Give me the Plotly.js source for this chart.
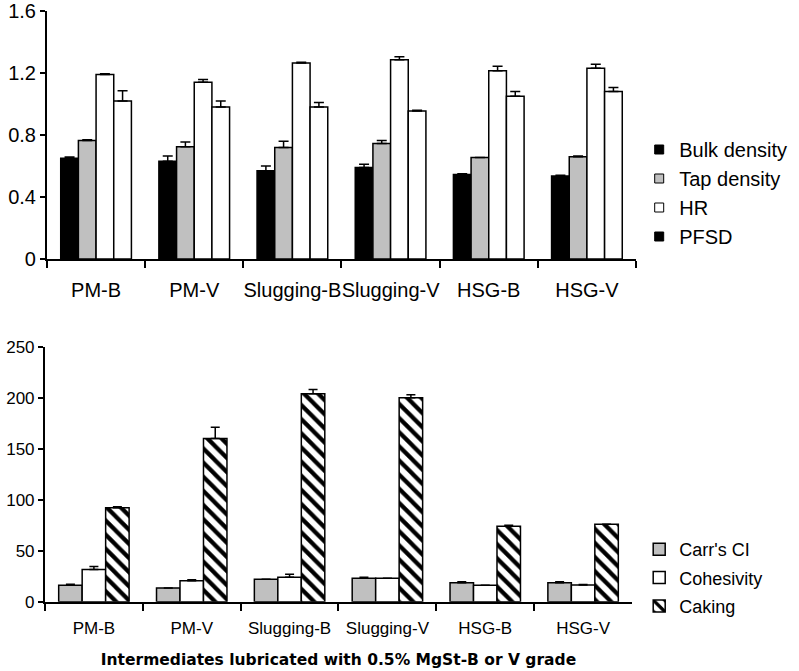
<!DOCTYPE html>
<html>
<head>
<meta charset="utf-8">
<script src="https://cdn.plot.ly/plotly-3.0.1.min.js"></script>
<style>html,body{margin:0;padding:0;background:#fff;}#chart{width:799px;height:671px;}</style>
</head>
<body>
<div id="chart"></div>
<script>
var categories = ['PM-B', 'PM-V', 'Slugging-B', 'Slugging-V', 'HSG-B', 'HSG-V'];

// Top panel
var bulkDensity = [0.65, 0.63, 0.57, 0.59, 0.545, 0.535];
var bulkDensityErr = [0.008, 0.035, 0.03, 0.022, 0.005, 0.005];
var tapDensity = [0.765, 0.725, 0.72, 0.745, 0.655, 0.66];
var tapDensityErr = [0.005, 0.03, 0.04, 0.02, 0, 0.005];
var hr = [1.19, 1.14, 1.265, 1.285, 1.215, 1.23];
var hrErr = [0.005, 0.018, 0.005, 0.02, 0.028, 0.027];
var pfsd = [1.02, 0.98, 0.98, 0.955, 1.05, 1.08];
var pfsdErr = [0.065, 0.04, 0.03, 0.004, 0.03, 0.027];

// Bottom panel
var carrsCI = [16, 13.5, 22, 23, 18.5, 18.5];
var carrsCIErr = [1, 0, 0, 1, 1, 1];
var cohesivity = [31.5, 20.5, 24, 23, 16, 16.4];
var cohesivityErr = [3, 1, 3, 0, 0, 0.5];
var caking = [92, 160, 204, 200, 74, 76];
var cakingErr = [1, 11, 4, 3, 1, 0];

var FONT = 'Liberation Sans, Arial, sans-serif';
var GRAY = '#c0c0c0';

function zeros(n){ var a=[]; for(var i=0;i<n;i++) a.push(0); return a; }

function barTrace(name, y, err, color, xa, ya, extra){
  var t = {
    type: 'bar', name: name, x: categories, y: y,
    xaxis: xa, yaxis: ya,
    marker: {color: color, line: {color: '#000', width: 1.5}},
    error_y: {type: 'data', array: err, arrayminus: zeros(err.length), symmetric: false,
              color: '#000', thickness: 1.5, width: 5, visible: true}
  };
  for (var k in extra) t[k] = extra[k];
  return t;
}

function legendDummy(name, color, grp){
  return {type: 'scatter', mode: 'markers', name: name, x: [null], y: [null],
    xaxis: 'x', yaxis: 'y', legend: 'legend', legendgroup: grp,
    marker: {symbol: 'square', size: 9, color: color, line: {color: '#000', width: 1}}};
}

var data = [
  barTrace('Bulk density', bulkDensity, bulkDensityErr, '#000', 'x', 'y', {showlegend: false}),
  barTrace('Tap density', tapDensity, tapDensityErr, GRAY, 'x', 'y', {showlegend: false}),
  barTrace('HR', hr, hrErr, '#fff', 'x', 'y', {showlegend: false}),
  barTrace('PFSD', pfsd, pfsdErr, '#fff', 'x', 'y', {showlegend: false}),
  legendDummy('Bulk density', '#000', 'a'),
  legendDummy('Tap density', GRAY, 'b'),
  legendDummy('HR', '#fff', 'c'),
  legendDummy('PFSD', '#000', 'd'),
  barTrace("Carr's CI", carrsCI, carrsCIErr, GRAY, 'x2', 'y2', {legend: 'legend2', legendgroup: 'e'}),
  barTrace('Cohesivity', cohesivity, cohesivityErr, '#fff', 'x2', 'y2', {legend: 'legend2', legendgroup: 'f'}),
  barTrace('Caking', caking, cakingErr, '#fff', 'x2', 'y2', {legend: 'legend2', legendgroup: 'g'})
];
data[10].marker.pattern = {shape: '\\', bgcolor: '#fff', fgcolor: '#000', size: 10, solidity: 0.42};
for (var i = 8; i < 11; i++) data[i].error_y.width = 4.5;

var axisCommon = {showline: true, linecolor: '#000', linewidth: 2, showgrid: false, zeroline: false,
  ticks: 'outside', tickcolor: '#000', tickwidth: 2, automargin: false, fixedrange: true,
  ticklabeloverflow: 'allow'};

function ax(o){ var r = {}; for (var k in axisCommon) r[k] = axisCommon[k]; for (var k2 in o) r[k2] = o[k2]; return r; }

var layout = {
  width: 799, height: 671,
  margin: {l: 0, r: 0, t: 0, b: 0},
  paper_bgcolor: '#fff', plot_bgcolor: '#fff',
  barmode: 'group', bargap: 0.28, bargroupgap: 0,
  font: {family: FONT, color: '#000'},
  showlegend: true,
  xaxis: ax({domain: [0.0588, 0.796], anchor: 'y', type: 'category', tickson: 'boundaries', ticklen: 7,
    tickangle: 0, ticklabelstandoff: 12,
    tickfont: {size: 20, family: FONT, color: '#000'}}),
  yaxis: ax({domain: [0.614, 0.9836], anchor: 'x', range: [0, 1.6001], tickvals: [0, 0.4, 0.8, 1.2, 1.6],
    ticktext: ['0', '0.4', '0.8', '1.2', '1.6'], ticklen: 5,
    tickfont: {size: 20, family: FONT, color: '#000'}}),
  xaxis2: ax({domain: [0.0563, 0.791], anchor: 'y2', type: 'category', tickson: 'boundaries', ticklen: 7,
    tickangle: 0, ticklabelstandoff: 10,
    tickfont: {size: 17, family: FONT, color: '#000'},
    title: {text: 'Intermediates lubricated with 0.5% MgSt-B or V grade', standoff: 17,
      font: {size: 15.5, family: 'DejaVu Sans, Verdana, sans-serif', weight: 'bold', color: '#000'}}}),
  yaxis2: ax({domain: [0.1033, 0.4833], anchor: 'x2', range: [0, 250.01], dtick: 50, tick0: 0, ticklen: 5,
    tickfont: {size: 17, family: FONT, color: '#000'}}),
  legend: {x: 0.80, xanchor: 'left', y: 1 - 130/671, yanchor: 'top', bgcolor: 'rgba(0,0,0,0)',
    font: {size: 20, family: FONT, color: '#000'}, tracegroupgap: 0, itemwidth: 30},
  legend2: {x: 0.80, xanchor: 'left', y: 1 - 531/671, yanchor: 'top', bgcolor: 'rgba(0,0,0,0)',
    font: {size: 18, family: FONT, color: '#000'}, tracegroupgap: 2, itemwidth: 30}
};

Plotly.newPlot('chart', data, layout, {displayModeBar: false, staticPlot: true});
</script>
</body>
</html>
